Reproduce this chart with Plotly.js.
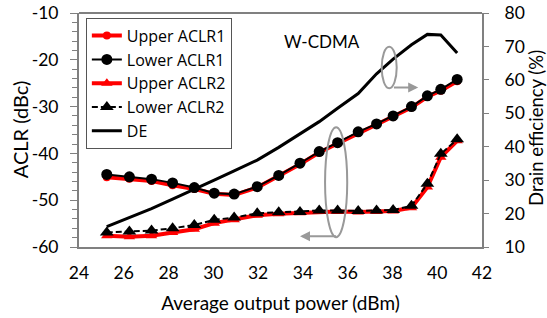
<!DOCTYPE html>
<html>
<head>
<meta charset="utf-8">
<script src="https://cdn.plot.ly/plotly-3.0.1.min.js"></script>
<style>html,body{margin:0;padding:0;background:#fff;}#chart{width:547px;height:318px;}</style>
</head>
<body>
<div id="chart"></div>
<script>
var powerDbm = [25.24, 26.25, 27.24, 28.18, 29.15, 30.04, 30.93, 31.96, 32.92, 33.87, 34.73, 35.55, 36.47, 37.29, 38.03, 38.85, 39.56, 40.16, 40.89];
var upperACLR1 = [-45.1, -45.4, -45.9, -46.8, -47.6, -48.6, -48.9, -47.3, -44.9, -42.3, -39.8, -37.9, -35.6, -33.9, -32.2, -30.2, -27.9, -26.6, -24.6];
var lowerACLR1 = [-44.5, -45.0, -45.5, -46.3, -47.3, -48.5, -48.7, -47.1, -44.7, -42.1, -39.6, -37.7, -35.4, -33.7, -32.0, -30.0, -27.7, -26.3, -24.2];
var upperACLR2 = [-57.6, -57.8, -57.6, -56.9, -56.2, -54.9, -54.2, -53.2, -52.9, -52.7, -52.4, -52.4, -52.5, -52.4, -52.3, -51.6, -47.2, -40.8, -37.3];
var lowerACLR2 = [-56.9, -56.7, -56.5, -56.0, -55.3, -54.2, -53.7, -52.8, -52.6, -52.5, -52.2, -52.2, -52.3, -52.2, -52.1, -51.2, -46.5, -40.1, -37.0];
var drainEff = [16.1, 18.8, 21.5, 24.3, 27.4, 30.0, 32.8, 36.0, 39.8, 43.9, 47.5, 51.5, 55.9, 61.8, 66.2, 70.5, 73.6, 73.4, 68.0];
var seriesNames = ['Upper ACLR1', 'Lower ACLR1', 'Upper ACLR2', 'Lower ACLR2', 'DE'];
var xTicks = [24, 26, 28, 30, 32, 34, 36, 38, 40, 42];
var yTicks = [-60, -50, -40, -30, -20, -10];
var y2Ticks = [10, 20, 30, 40, 50, 60, 70, 80];

var FONT = 'Lato, "Liberation Sans", sans-serif';
var LFONT = '"Open Sans", Lato, sans-serif';
var traces = [
  {x: powerDbm, y: upperACLR1, name: seriesNames[0], mode: 'lines+markers',
   line: {color: '#ff0000', width: 4}, marker: {symbol: 'circle', size: 8, color: '#ff0000'}},
  {x: powerDbm, y: lowerACLR1, name: seriesNames[1], mode: 'lines+markers',
   line: {color: '#000000', width: 2}, marker: {symbol: 'circle', size: 11, color: '#000000'}},
  {x: powerDbm, y: upperACLR2, name: seriesNames[2], mode: 'lines+markers',
   line: {color: '#ff0000', width: 4}, marker: {symbol: 'triangle-up', size: 10, color: '#ff0000'}},
  {x: powerDbm, y: lowerACLR2, name: seriesNames[3], mode: 'lines+markers',
   line: {color: '#000000', width: 2, dash: '6px,3px'}, marker: {symbol: 'triangle-up', size: 12, color: '#000000'}},
  {x: powerDbm, y: drainEff, name: seriesNames[4], mode: 'lines', yaxis: 'y2',
   line: {color: '#000000', width: 3}}
];

var layout = {
  width: 547, height: 318,
  margin: {l: 79, r: 65, t: 13, b: 71, pad: 0},
  paper_bgcolor: '#ffffff', plot_bgcolor: '#ffffff',
  font: {family: FONT, size: 17, color: '#000000'},
  showlegend: true,
  legend: {x: 0.017, y: 0.98, xanchor: 'left', yanchor: 'top',
    bgcolor: '#ffffff', bordercolor: '#555555', borderwidth: 1,
    font: {family: LFONT, size: 16, color: '#000'}, itemwidth: 30, tracegroupgap: 0},
  xaxis: {range: [24, 42], tickmode: 'array', tickvals: xTicks, ticktext: xTicks.map(String), ticks: '',
    ticklabelstandoff: 9,
    showgrid: false, zeroline: false, showline: true, linecolor: '#808080', linewidth: 2,
    mirror: false, tickfont: {family: FONT, size: 17.5},
    title: {text: 'Average output power (dBm)', font: {family: FONT, size: 19}, standoff: 15}},
  yaxis: {range: [-60, -10], tickmode: 'array', tickvals: yTicks, ticktext: yTicks.map(String),
    ticks: 'outside', ticklen: 7, ticklabelstandoff: 8,
    tickcolor: '#808080', tickwidth: 1,
    minor: {dtick: 2, ticks: 'outside', ticklen: 5, tickcolor: '#808080', tickwidth: 1, showgrid: false},
    showgrid: false, zeroline: false, showline: true, linecolor: '#808080', linewidth: 2,
    tickfont: {family: FONT, size: 17.5},
    title: {text: ''}},
  yaxis2: {range: [10, 80], overlaying: 'y', side: 'right', tickmode: 'array', tickvals: y2Ticks,
    ticktext: y2Ticks.map(String),
    ticks: 'outside', ticklen: 5, ticklabelstandoff: 12, tickcolor: '#808080', tickwidth: 1,
    showgrid: false, zeroline: false, showline: true, linecolor: '#808080', linewidth: 2,
    tickfont: {family: FONT, size: 17.5},
    title: {text: ''}},
  shapes: [
    {type: 'line', xref: 'paper', yref: 'paper', x0: 0, x1: 1, y0: 1, y1: 1, line: {color: '#808080', width: 2}},
    {type: 'circle', xref: 'x', yref: 'y', x0: 37.52, x1: 38.19, y0: -26.1, y1: -17.2, line: {color: '#999999', width: 2}},
    {type: 'circle', xref: 'x', yref: 'y', x0: 34.99, x1: 35.98, y0: -57.9, y1: -34.4, line: {color: '#999999', width: 2}}
  ],
  annotations: [
    {text: 'W-CDMA', xref: 'paper', yref: 'paper', x: 0.603, y: 0.932, showarrow: false,
     font: {family: FONT, size: 17, color: '#000'}},
    {text: 'ACLR (dBc)', xref: 'paper', yref: 'paper', x: -0.146, y: 0.504, textangle: -90,
     xanchor: 'center', yanchor: 'middle', showarrow: false, font: {family: FONT, size: 20, color: '#000'}},
    {text: 'Drain efficiency (%)', xref: 'paper', yref: 'paper', x: 1.134, y: 0.509, textangle: -90,
     xanchor: 'center', yanchor: 'middle', showarrow: false, font: {family: FONT, size: 18.5, color: '#000'}},
    {text: '', xref: 'x', yref: 'y', axref: 'x', ayref: 'y', x: 39.15, y: -25.9, ax: 38.0, ay: -25.9,
     showarrow: true, arrowhead: 2, arrowsize: 1, arrowwidth: 2, arrowcolor: '#999999'},
    {text: '', xref: 'x', yref: 'y', axref: 'x', ayref: 'y', x: 33.87, y: -57.7, ax: 35.55, ay: -57.7,
     showarrow: true, arrowhead: 2, arrowsize: 1, arrowwidth: 2, arrowcolor: '#999999'}
  ]
};

Plotly.newPlot('chart', traces, layout, {displayModeBar: false, staticPlot: true});
</script>
</body>
</html>
